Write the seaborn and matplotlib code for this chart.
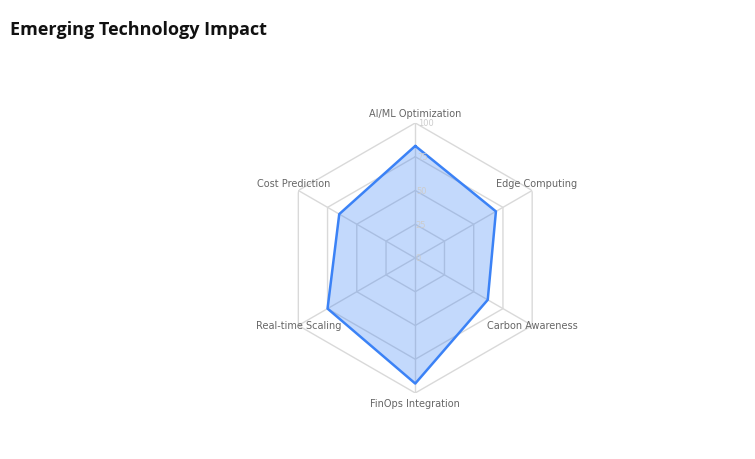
import numpy as np
import matplotlib
matplotlib.use("Agg")
import matplotlib.pyplot as plt
import seaborn as sns

categories = ["AI/ML Optimization", "Edge Computing", "Carbon Awareness",
              "FinOps Integration", "Real-time Scaling", "Cost Prediction"]
values = [83, 69, 62, 93, 75, 65]
ticks = [0, 25, 50, 75, 100]

sns.set_style("white")
fig = plt.figure(figsize=(7.55, 4.6), dpi=100)
ax = fig.add_axes([0.55 - 0.179, 0.437 - 0.2935, 0.358, 0.587], projection="polar")
ax.set_theta_zero_location("N")
ax.set_theta_direction(-1)
n = len(categories)
ang = np.arange(n) * 2 * np.pi / n
angc = np.append(ang, ang[0])

for t in ticks[1:]:
    ax.plot(angc, [t] * (n + 1), color="#d9d9d9", lw=1, zorder=1)
for a in ang:
    ax.plot([a, a], [0, 100], color="#d9d9d9", lw=1, zorder=1)

v = np.append(values, values[0])
ax.fill(angc, v, color="#3b82f6", alpha=0.3, zorder=2, lw=0)
ax.plot(angc, v, color="#3b82f6", lw=1.8, zorder=3)

for t in ticks:
    ax.text(np.deg2rad(1), t, str(t), fontsize=6, color="#cccccc", ha="left", va="center", zorder=4)

va = ["bottom", "bottom", "center", "top", "center", "bottom"]
rr = [104, 104, 100, 104, 100, 104]
for a, c, vv, r in zip(ang, categories, va, rr):
    ax.text(a, r, c, fontsize=7, color="#666666", ha="center", va=vv)

ax.set_ylim(0, 100)
ax.set_xticks([]); ax.set_yticks([])
ax.grid(False)
ax.spines["polar"].set_visible(False)
ax.patch.set_alpha(0)

fig.text(10 / 755, 1 - 30 / 460, "Emerging Technology Impact", fontsize=13,
         fontfamily="Open Sans", fontweight="bold", ha="left", va="center", color="#111111")
fig.savefig("out.png", dpi=100)
